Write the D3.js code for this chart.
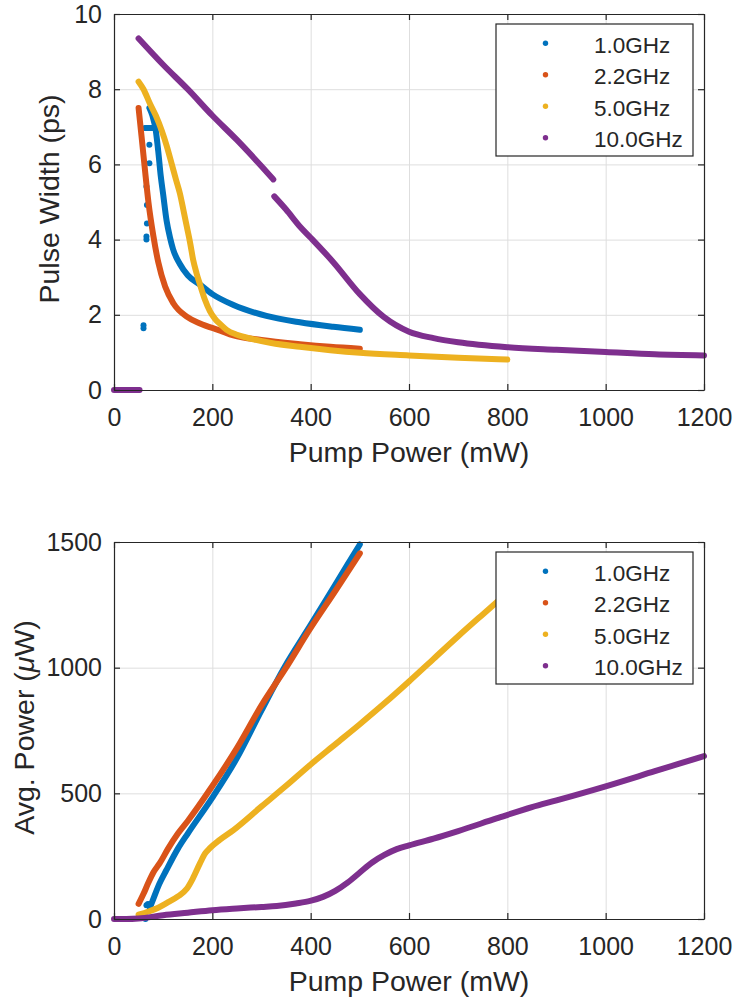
<!DOCTYPE html>
<html>
<head>
<meta charset="utf-8">
<script src="https://cdn.jsdelivr.net/npm/d3@7"></script>
<style>
  html, body { margin: 0; padding: 0; background: #fff; }
  svg { display: block; }
  text { font-family: "Liberation Sans", Arial, sans-serif; fill: #262626; }
</style>
</head>
<body>
<svg id="fig" width="734" height="1003"></svg>
<script>
// ---- series and tick labels ----
const seriesNames = ["1.0GHz", "2.2GHz", "5.0GHz", "10.0GHz"];
const seriesColors = ["#0072BD", "#D95319", "#EDB120", "#7E2F8E"];
const xTicks = [0, 200, 400, 600, 800, 1000, 1200];
const pwTicks = [0, 2, 4, 6, 8, 10];
const apTicks = [0, 500, 1000, 1500];

// Pulse width (ps) vs pump power (mW); null entries split a trace
const pw1 = [[72,7.5],[78,7.3],[85,6.9],[90,6.35],[95,5.7],[100,5.2],[107,4.5],[114,4.05],[120,3.75],[134,3.35],[150,3.05],[175,2.8],[200,2.55],[243,2.26],[310,1.97],[378,1.8],[446,1.68],[500,1.6]];
const pw1Loose = [[63,6.97],[66,6.97],[69,6.97],[72,6.97],[75,6.97],[78,6.97],[72,6.52],[72,6.03],[66,5.41],[67,4.92],[67,4.43],[66,4.08],[66,4.0],[60,1.64],[60,1.72]];
const pw2 = [[50,7.5],[56,6.75],[63,5.85],[70,5.0],[80,4.1],[90,3.4],[104,2.75],[121,2.3],[148,1.95],[175,1.77],[216,1.58],[243,1.45],[300,1.33],[378,1.22],[440,1.15],[500,1.1]];
const pw5 = [[50,8.2],[60,8.0],[73,7.62],[85,7.3],[97,6.9],[107,6.5],[117,6.03],[126,5.6],[134,5.23],[141,4.8],[148,4.35],[155,3.9],[161,3.46],[168,3.1],[175,2.8],[185,2.4],[195,2.1],[205,1.9],[216,1.75],[229,1.6],[250,1.47],[277,1.37],[320,1.25],[378,1.15],[440,1.06],[500,0.99],[600,0.92],[700,0.86],[800,0.81]];
const pw10 = [[0,0],[25,0],[52,0],null,[50,9.35],[100,8.65],[150,8.0],[200,7.3],[250,6.65],[300,5.95],[324,5.6],null,[326,5.15],[350,4.8],[378,4.35],[400,4.05],[446,3.4],[500,2.55],[548,1.95],[600,1.55],[650,1.38],[700,1.27],[800,1.14],[900,1.07],[1000,1.01],[1100,0.95],[1200,0.92]];

// Average output power (uW) vs pump power (mW)
const ap1 = [[73,45],[80,80],[90,130],[107,196],[130,280],[150,340],[199,480],[250,640],[300,830],[345,996],[400,1170],[450,1330],[500,1490]];
const ap1Loose = [[64,0],[66,55],[69,60],[72,58]];
const ap2 = [[50,60],[60,100],[70,145],[80,185],[93,222],[110,280],[130,340],[150,390],[199,526],[250,680],[300,850],[350,1000],[399,1155],[450,1305],[500,1455]];
const ap5 = [[50,17],[70,30],[90,45],[107,63],[130,90],[148,120],[160,160],[175,222],[185,260],[195,282],[215,315],[243,354],[300,448],[350,530],[400,615],[450,695],[500,775],[550,858],[600,945],[650,1035],[700,1125],[750,1212],[800,1298]];
const ap10 = [[0,0],[25,0],[50,2],[100,15],[150,25],[200,35],[250,42],[300,48],[331,52],[370,62],[399,72],[425,88],[450,112],[475,145],[500,185],[525,225],[550,255],[575,278],[600,293],[650,320],[700,350],[778,400],[850,445],[900,472],[1000,528],[1100,588],[1200,648]];

const svg = d3.select("#fig");
const INK = "#262626";

function panel(opts) {
  const { top, bottom, left, right, yDomain, yTicks, yLabel, yLabelX, traces, loose, legendTop } = opts;
  const x = d3.scaleLinear().domain([0, 1200]).range([left, right]);
  const y = d3.scaleLinear().domain(yDomain).range([bottom, top]);
  const g = svg.append("g");

  // grid
  g.append("g").attr("transform", `translate(0,${bottom})`)
    .call(d3.axisBottom(x).tickValues(xTicks).tickSize(-(bottom - top)).tickFormat(""))
    .call(a => a.select(".domain").remove())
    .call(a => a.selectAll("line").attr("stroke", "#dedede").attr("stroke-width", 1));
  g.append("g").attr("transform", `translate(${left},0)`)
    .call(d3.axisLeft(y).tickValues(yTicks).tickSize(-(right - left)).tickFormat(""))
    .call(a => a.select(".domain").remove())
    .call(a => a.selectAll("line").attr("stroke", "#dedede").attr("stroke-width", 1));

  // data traces
  const line = d3.line()
    .defined(d => d !== null)
    .x(d => x(d[0])).y(d => y(d[1]))
    .curve(d3.curveMonotoneX);
  traces.forEach((t, i) => {
    if (loose[i]) {
      g.append("g").selectAll("circle").data(loose[i]).join("circle")
        .attr("cx", d => x(d[0])).attr("cy", d => y(d[1])).attr("r", 3)
        .attr("fill", seriesColors[i]);
    }
    g.append("path").datum(t)
      .attr("d", line)
      .attr("fill", "none")
      .attr("stroke", seriesColors[i])
      .attr("stroke-width", 6)
      .attr("stroke-linecap", "round")
      .attr("stroke-linejoin", "round");
  });

  // axes box with inward ticks
  const axStyle = a => {
    a.select(".domain").attr("stroke", INK).attr("stroke-width", 1.2);
    a.selectAll(".tick line").attr("stroke", INK).attr("stroke-width", 1.2);
    a.selectAll("text").attr("font-size", 25).attr("fill", INK)
      .attr("font-family", '"Liberation Sans", Arial, sans-serif');
  };
  g.append("g").attr("transform", `translate(0,${bottom})`)
    .call(d3.axisBottom(x).tickValues(xTicks).tickSizeInner(-6).tickSizeOuter(0).tickPadding(18).tickFormat(d3.format("d")))
    .call(axStyle);
  g.append("g").attr("transform", `translate(0,${top})`)
    .call(d3.axisTop(x).tickValues(xTicks).tickSizeInner(-6).tickSizeOuter(0).tickFormat(""))
    .call(axStyle);
  g.append("g").attr("transform", `translate(${left},0)`)
    .call(d3.axisLeft(y).tickValues(yTicks).tickSizeInner(-6).tickSizeOuter(0).tickPadding(12).tickFormat(d3.format("d")))
    .call(axStyle);
  g.append("g").attr("transform", `translate(${right},0)`)
    .call(d3.axisRight(y).tickValues(yTicks).tickSizeInner(-6).tickSizeOuter(0).tickFormat(""))
    .call(axStyle);

  // axis labels
  g.append("text")
    .attr("x", (left + right) / 2).attr("y", bottom + 72)
    .attr("text-anchor", "middle").attr("font-size", 28.5)
    .text("Pump Power (mW)");
  const yl = g.append("text")
    .attr("transform", `translate(${yLabelX},${(top + bottom) / 2 - 3}) rotate(-90)`)
    .attr("text-anchor", "middle").attr("font-size", 28.5);
  yLabel(yl);

  // legend
  const lg = g.append("g").attr("transform", `translate(496,${legendTop})`);
  lg.append("rect").attr("width", 197).attr("height", 132)
    .attr("fill", "#fff").attr("stroke", INK).attr("stroke-width", 1.2);
  seriesNames.forEach((name, i) => {
    const cy = 19.3 + i * 31.5;
    lg.append("circle").attr("cx", 49.5).attr("cy", cy).attr("r", 2.7).attr("fill", seriesColors[i]);
    lg.append("text").attr("x", 98).attr("y", cy + 9.5).attr("font-size", 22.5).text(name);
  });
}

panel({
  top: 14, bottom: 390, left: 114, right: 704,
  yDomain: [0, 10], yTicks: pwTicks,
  yLabel: t => t.text("Pulse Width (ps)"),
  yLabelX: 59,
  traces: [pw1, pw2, pw5, pw10],
  loose: [pw1Loose, null, null, null],
  legendTop: 24
});

panel({
  top: 542, bottom: 919, left: 114, right: 704,
  yDomain: [0, 1500], yTicks: apTicks,
  yLabel: t => {
    t.append("tspan").text("Avg. Power (");
    t.append("tspan").attr("font-style", "italic").text("\u03BC");
    t.append("tspan").text("W)");
  },
  yLabelX: 34,
  traces: [ap1, ap2, ap5, ap10],
  loose: [ap1Loose, null, null, null],
  legendTop: 552
});
</script>
</body>
</html>
